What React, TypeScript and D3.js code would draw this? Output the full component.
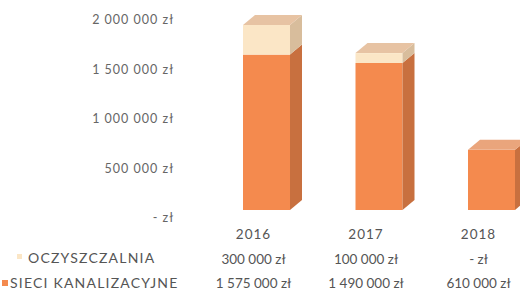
import React from 'react';
import * as d3 from 'd3';

const years = ['2016', '2017', '2018'];
const oczyszczalnia = [300000, 100000, 0];
const sieci = [1575000, 1490000, 610000];
const axisTicks = [0, 500000, 1000000, 1500000, 2000000];
const seriesNames = ['OCZYSZCZALNIA', 'SIECI KANALIZACYJNE'];

const W = 520;
const H = 291;
const barW = 47;
const dx = 12;
const dy = 10;
const font = 'Lato, "Open Sans", sans-serif';

const fmt = (v: number) =>
  v === 0 ? '- zł' : d3.format(',')(v).replace(/,/g, ' ') + ' zł';

const faces = {
  orange: { front: '#f48a4e', side: '#c8703f', top: '#eaa57c' },
  cream: { front: '#fbe6c6', side: '#d8bd9c', top: '#e7c3a3' },
};

const App: React.FC = () => {
  const x = d3.scalePoint<string>().domain(years).range([266.5, 491.5]);
  const y = d3.scaleLinear().domain([0, 1875000]).range([210, 25]);
  const yAxis = d3.scaleLinear().domain([0, 2000000]).range([218, 20]);

  const stack = years.map((yr, i) => {
    const s1 = { c: faces.orange, v0: 0, v1: sieci[i] };
    const s2 = { c: faces.cream, v0: sieci[i], v1: sieci[i] + oczyszczalnia[i] };
    return { yr, segs: [s1, s2].filter(s => s.v1 > s.v0) };
  });

  return (
    <svg width={W} height={H} style={{ position: 'absolute', left: 0, top: 0, background: '#fff' }}>
      <g fontFamily={font} fill="#666" fontSize={12.5} letterSpacing={1} textAnchor="end">
        {axisTicks.map(t => (
          <text key={t} x={174} y={yAxis(t)} dy="0.35em">{fmt(t)}</text>
        ))}
      </g>

      {stack.map(b => {
        const cx = x(b.yr)!;
        const l = cx - barW / 2;
        const r = cx + barW / 2;
        return (
          <g key={b.yr}>
            {b.segs.map((s, si) => {
              const yt = y(s.v1);
              const yb = y(s.v0);
              const isTop = si === b.segs.length - 1;
              return (
                <g key={si}>
                  <rect x={l} y={yt} width={barW} height={yb - yt} fill={s.c.front} />
                  <path d={`M${r},${yt}L${r + dx},${yt - dy}L${r + dx},${yb - dy}L${r},${yb}Z`} fill={s.c.side} />
                  {isTop && (
                    <path d={`M${l},${yt}L${l + dx},${yt - dy}L${r + dx},${yt - dy}L${r},${yt}Z`} fill={s.c.top} />
                  )}
                </g>
              );
            })}
          </g>
        );
      })}

      <g fontFamily={font} fill="#555" fontSize={13.5} textAnchor="middle">
        {years.map((yr, i) => (
          <g key={yr}>
            <text x={x(yr)! - 13} y={234} dy="0.35em" letterSpacing={1}>{yr}</text>
            <text x={x(yr)! - 13} y={259} dy="0.35em">{fmt(oczyszczalnia[i])}</text>
            <text x={x(yr)! - 13} y={283} dy="0.35em">{fmt(sieci[i])}</text>
          </g>
        ))}
      </g>

      <g fontFamily={font} fill="#555" fontSize={14} letterSpacing={1.2}>
        <rect x={17} y={254} width={5} height={5} fill={faces.cream.front} />
        <text x={28} y={258} dy="0.35em">{seriesNames[0]}</text>
        <rect x={2} y={280} width={6} height={6} fill={faces.orange.front} />
        <text x={10} y={283} dy="0.35em">{seriesNames[1]}</text>
      </g>
    </svg>
  );
};

export default App;
